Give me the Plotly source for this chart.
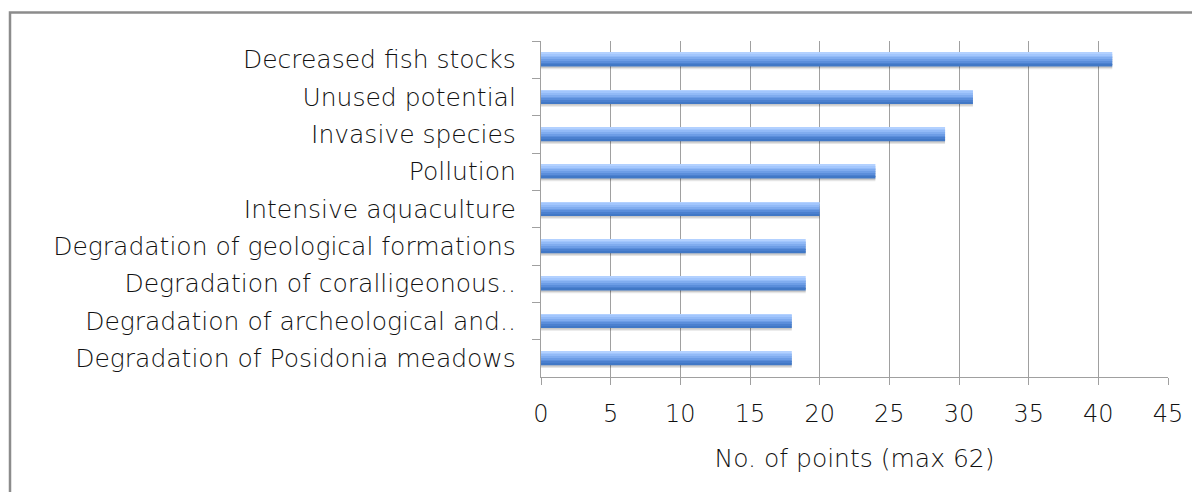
import plotly.graph_objects as go

categories = [
    "Decreased fish stocks",
    "Unused potential",
    "Invasive species",
    "Pollution",
    "Intensive aquaculture",
    "Degradation of geological formations",
    "Degradation of coralligeonous..",
    "Degradation of archeological and..",
    "Degradation of Posidonia meadows",
]
points = [41, 31, 29, 24, 20, 19, 19, 18, 18]
x_ticks = [0, 5, 10, 15, 20, 25, 30, 35, 40, 45]
x_title = "No. of points (max 62)"

FONT = "DejaVu Sans"
FW = 300
TXT = "#111111"
# page body has an 8px margin, so the figure is sized/offset to compensate
OFF = 8
W, H = 1200 - OFF, 492 - OFF
ML, MR, MT, MB = 541 - OFF, 32, 41 - OFF, 115

fig = go.Figure()

bar_w = 0.36
top_off = -0.18

# soft shadow under bars
fig.add_trace(go.Bar(
    y=categories, x=points, orientation="h",
    width=bar_w, offset=top_off + 0.08,
    marker=dict(color="rgba(0,0,0,0.10)", line=dict(width=0)),
    hoverinfo="skip", showlegend=False,
))
fig.add_trace(go.Bar(
    y=categories, x=points, orientation="h",
    width=bar_w, offset=top_off + 0.045,
    marker=dict(color="rgba(0,0,0,0.12)", line=dict(width=0)),
    hoverinfo="skip", showlegend=False,
))

# gradient bands (top light -> bottom dark)
band_colors = ["#b3d1ff", "#a2c6fd", "#92baf7", "#80acef", "#6d9de6", "#5b8edb", "#4b80cf", "#4178c6"]
n = len(band_colors)
bw = bar_w / n
for i, c in enumerate(band_colors):
    fig.add_trace(go.Bar(
        y=categories, x=points, orientation="h",
        width=bw + 0.002, offset=top_off + i * bw,
        marker=dict(color=c, line=dict(width=0)),
        hovertemplate="%{y}: %{x}<extra></extra>",
        showlegend=False,
    ))

fig.update_layout(
    width=W, height=H,
    barmode="overlay",
    paper_bgcolor="white", plot_bgcolor="white",
    margin=dict(l=ML, r=MR, t=MT, b=MB),
    font=dict(family=FONT, size=25, color=TXT, weight=FW),
    xaxis=dict(
        range=[0, 45], tickvals=x_ticks, ticktext=[str(v) for v in x_ticks],
        showgrid=True, gridcolor="#a0a0a0", gridwidth=1.3,
        showline=True, linecolor="#a0a0a0", linewidth=1.3,
        ticks="outside", ticklen=7, tickcolor="#a0a0a0", tickwidth=1.3,
        zeroline=False,
        ticklabelstandoff=8,
        tickfont=dict(family=FONT, size=24, color=TXT, weight=FW),
        title=dict(text=x_title, standoff=22, font=dict(family=FONT, size=25, color=TXT, weight=FW)),
    ),
    yaxis=dict(
        autorange="reversed",
        showgrid=False,
        showline=True, linecolor="#a0a0a0", linewidth=1.3,
        ticks="outside", ticklen=8, tickcolor="#a0a0a0", tickwidth=1.3,
        tickson="boundaries",
        tickfont=dict(family=FONT, size=25, color=TXT, weight=FW),
        ticklabelstandoff=19,
    ),
)

pw = W - ML - MR
ph = H - MT - MB
fig.add_shape(
    type="rect", xref="paper", yref="paper",
    x0=(10 - 541) / pw, x1=1.5,
    y0=-1.0, y1=1 + (41 - 12.5) / ph,
    line=dict(color="#8c8c8c", width=2.5), fillcolor="rgba(0,0,0,0)",
    layer="below",
)

fig.write_html("out.html")
